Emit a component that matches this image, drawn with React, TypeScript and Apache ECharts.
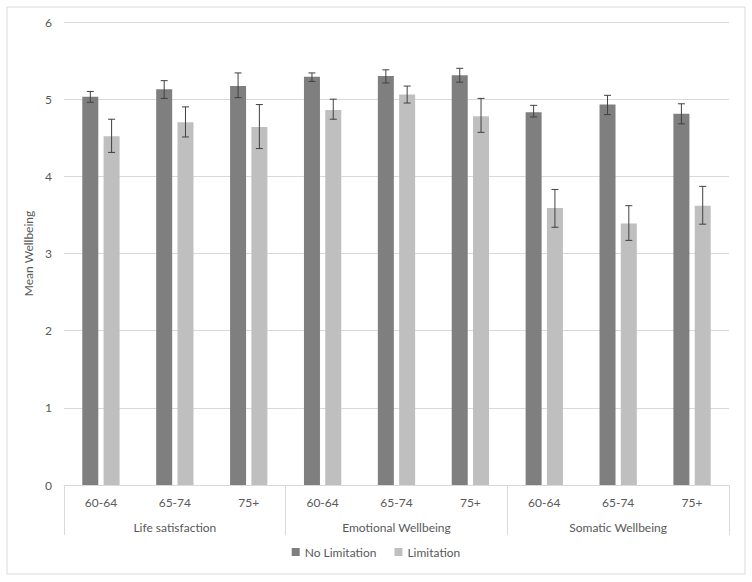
import React, { useEffect, useRef } from "react";
import * as echarts from "echarts";

const ageGroups = ["60-64", "65-74", "75+", "60-64", "65-74", "75+", "60-64", "65-74", "75+"];
const domains = ["Life satisfaction", "Emotional Wellbeing", "Somatic Wellbeing"];
const seriesNames = ["No Limitation", "Limitation"];

const noLimitation = [5.03, 5.13, 5.17, 5.29, 5.30, 5.31, 4.83, 4.93, 4.81];
const noLimitationLow = [4.96, 5.01, 5.02, 5.23, 5.21, 5.22, 4.77, 4.80, 4.68];
const noLimitationHigh = [5.10, 5.24, 5.34, 5.34, 5.38, 5.40, 4.92, 5.05, 4.94];

const limitation = [4.52, 4.70, 4.64, 4.86, 5.06, 4.78, 3.59, 3.39, 3.62];
const limitationLow = [4.31, 4.51, 4.36, 4.74, 4.95, 4.57, 3.34, 3.17, 3.38];
const limitationHigh = [4.74, 4.90, 4.93, 5.00, 5.17, 5.01, 3.83, 3.62, 3.87];

const yTicks = { min: 0, max: 6, interval: 1 };

const DARK = "#7f7f7f";
const LIGHT = "#bfbfbf";
const TEXT = "#595959";
const GRID = "#d9d9d9";
const ERR = "#404040";
const FONT = "Lato";
const BAR_W = 16;
const BAR_GAP_PX = 5.3;

export default function App() {
  const ref = useRef<HTMLDivElement>(null);
  useEffect(() => {
    if (!ref.current) return;
    const chart = echarts.init(ref.current, null, { renderer: "svg" });
    const offset = (BAR_W + BAR_GAP_PX) / 2;
    const errSeries = (low: number[], high: number[], dir: number, name: string) => ({
      type: "custom",
      name: name + "-err",
      xAxisIndex: 0,
      yAxisIndex: 0,
      silent: true,
      z: 10,
      data: low.map((l, i) => [i, l, high[i]]),
      renderItem: (params: any, api: any) => {
        const i = api.value(0);
        const pLow = api.coord([i, api.value(1)]);
        const pHigh = api.coord([i, api.value(2)]);
        const x = pLow[0] + dir * offset;
        const cap = 3.5;
        const style = { stroke: ERR, lineWidth: 1 };
        return {
          type: "group",
          children: [
            { type: "line", shape: { x1: x, y1: pLow[1], x2: x, y2: pHigh[1] }, style },
            { type: "line", shape: { x1: x - cap, y1: pLow[1], x2: x + cap, y2: pLow[1] }, style },
            { type: "line", shape: { x1: x - cap, y1: pHigh[1], x2: x + cap, y2: pHigh[1] }, style },
          ],
        };
      },
    });
    chart.setOption({
      animation: false,
      backgroundColor: "#ffffff",
      textStyle: { fontFamily: FONT },
      grid: { left: 64, right: 23, top: 22, bottom: 97 },
      graphic: [
        {
          type: "rect",
          shape: { x: 7, y: 7, width: 738, height: 567 },
          style: { fill: "none", stroke: GRID, lineWidth: 1 },
          silent: true,
        },
      ],
      legend: {
        data: seriesNames,
        bottom: 19,
        left: "center",
        itemWidth: 8,
        itemHeight: 8,
        itemGap: 18,
        icon: "rect",
        textStyle: { color: TEXT, fontSize: 12, fontFamily: FONT },
      },
      xAxis: [
        {
          type: "category",
          data: ageGroups,
          position: "bottom",
          axisLine: { show: true, lineStyle: { color: GRID } },
          axisTick: { show: false },
          axisLabel: { color: TEXT, fontSize: 12, margin: 11, fontFamily: FONT },
        },
        {
          type: "category",
          data: domains,
          position: "bottom",
          axisLine: { show: false },
          axisTick: { show: true, length: 50, lineStyle: { color: GRID } },
          axisLabel: { color: TEXT, fontSize: 12, margin: 36, fontFamily: FONT },
        },
      ],
      yAxis: {
        type: "value",
        min: yTicks.min,
        max: yTicks.max,
        interval: yTicks.interval,
        name: "Mean Wellbeing",
        nameLocation: "middle",
        nameGap: 20,
        nameTextStyle: { color: TEXT, fontSize: 12, fontFamily: FONT },
        axisLine: { show: false },
        axisTick: { show: false },
        axisLabel: { color: TEXT, fontSize: 12, margin: 12, fontFamily: FONT },
        splitLine: { lineStyle: { color: GRID } },
      },
      series: [
        {
          name: seriesNames[0],
          type: "bar",
          xAxisIndex: 0,
          data: noLimitation,
          barWidth: BAR_W,
          barGap: (BAR_GAP_PX / BAR_W) * 100 + "%",
          itemStyle: { color: DARK },
        },
        {
          name: seriesNames[1],
          type: "bar",
          xAxisIndex: 0,
          data: limitation,
          barWidth: BAR_W,
          itemStyle: { color: LIGHT },
        },
        errSeries(noLimitationLow, noLimitationHigh, -1, seriesNames[0]),
        errSeries(limitationLow, limitationHigh, 1, seriesNames[1]),
      ],
    });
    return () => chart.dispose();
  }, []);
  return (
    <div
      ref={ref}
      style={{ position: "fixed", left: 0, top: 0, width: 752, height: 582, background: "#fff" }}
    />
  );
}
